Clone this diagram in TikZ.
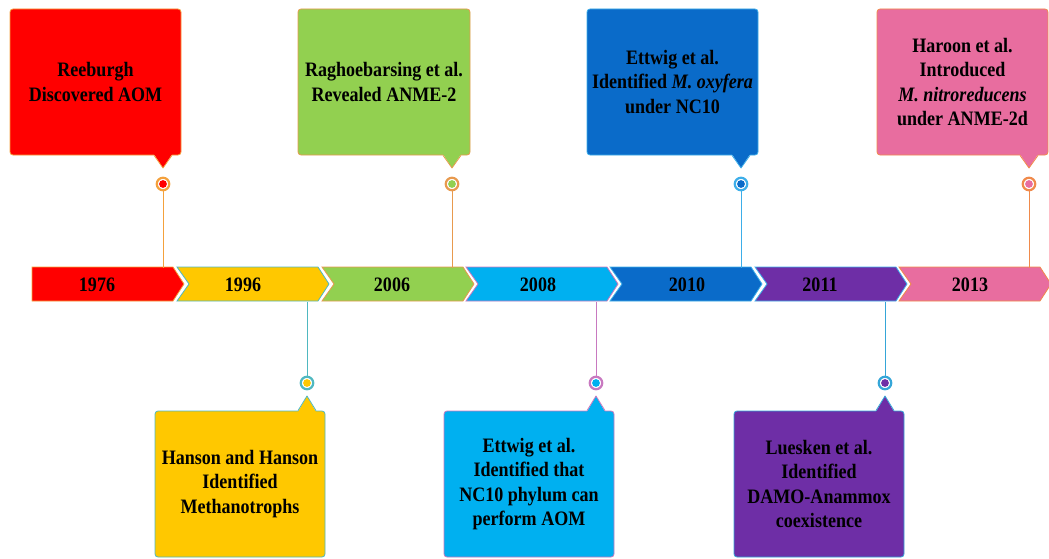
\documentclass[tikz,border=0pt]{standalone}
\usepackage{fontspec}
\setmainfont{Liberation Serif}[FakeStretch=0.88]
\usetikzlibrary{calc}

% fills
\definecolor{cRed}{HTML}{FF0000}
\definecolor{cYellow}{HTML}{FFC800}
\definecolor{cGreen}{HTML}{92D050}
\definecolor{cSky}{HTML}{00B0F0}
\definecolor{cBlue}{HTML}{0A6BC9}
\definecolor{cPurple}{HTML}{6E2EA6}
\definecolor{cPink}{HTML}{E86D9F}
% rings, outlines and stems
\definecolor{rRed}{HTML}{F4A13C}
\definecolor{rYellow}{HTML}{4FB8C0}
\definecolor{rGreen}{HTML}{E89A4E}
\definecolor{rSky}{HTML}{C879C0}
\definecolor{rBlue}{HTML}{3DAEE9}
\definecolor{rPurple}{HTML}{35A6D8}
\definecolor{rPink}{HTML}{F08A4B}

\newcommand\txtfont{\fontsize{20.5}{24.5}\selectfont\bfseries}

\tikzset{
  card/.style 2 args={draw=#2, fill=#1, line width=0.8pt, rounded corners=3pt,
    minimum width=171pt, minimum height=146pt, inner sep=0pt, align=center,
    font=\txtfont, text=black},
  year/.style={inner sep=0pt, minimum height=34pt, font=\txtfont, text=black},
  pinnode/.style 2 args={circle, draw=#1, line width=2.2pt, fill=white,
    minimum size=12.5pt, inner sep=0pt,
    path picture={\fill[#2] (path picture bounding box.center) circle (3.9pt);}},
  stem/.style={draw=#1, line width=1pt},
}

% one arrow segment of the time bar: left x, fill, outline, notch depth
\newcommand\chevron[4]{%
  \draw[fill=#2, draw=#3, line width=0.8pt, line join=miter]
    (#1,267) -- ++(141,0) -- ++(11,17) -- ++(-11,17) -- ++(-141,0) -- ++(#4,-17) -- cycle;}

% pointer of a card above the bar: card, pin, fill, outline
\newcommand\downpointer[4]{%
  \fill[#3] ($(#1.south -| #2)+(-9,-1.2)$) -- ($(#2)+(0,-16)$) -- ($(#1.south -| #2)+(9,-1.2)$) -- cycle;
  \draw[#4, line width=0.8pt, line join=round] ($(#1.south -| #2)+(-9,0)$) -- ($(#2)+(0,-16)$) -- ($(#1.south -| #2)+(9,0)$);}
% pointer of a card below the bar
\newcommand\uppointer[4]{%
  \fill[#3] ($(#1.north -| #2)+(-9,1.2)$) -- ($(#2)+(0,13)$) -- ($(#1.north -| #2)+(9,1.2)$) -- cycle;
  \draw[#4, line width=0.8pt, line join=round] ($(#1.north -| #2)+(-9,0)$) -- ($(#2)+(0,13)$) -- ($(#1.north -| #2)+(9,0)$);}

\begin{document}
\begin{tikzpicture}[x=1pt, y=-1pt]
\useasboundingbox (0,0) rectangle (1049,559);

% time bar
\chevron{32}{cRed}{rRed}{0}
\chevron{177}{cYellow}{rYellow}{12}
\chevron{322}{cGreen}{rGreen}{12}
\chevron{466}{cSky}{rSky}{12}
\chevron{610}{cBlue}{rBlue}{12}
\chevron{755}{cPurple}{rBlue}{12}
\chevron{899}{cPink}{rPink}{12}

\node[year] (y1976) at (97,285)  {1976};
\node[year] (y1996) at (243,285) {1996};
\node[year] (y2006) at (392,285) {2006};
\node[year] (y2008) at (538,285) {2008};
\node[year] (y2010) at (687,285) {2010};
\node[year] (y2011) at (820,285) {2011};
\node[year] (y2013) at (970,285) {2013};

% pins
\node[pinnode={rRed}{cRed}]       (p1976) at (163,184) {};
\node[pinnode={rGreen}{cGreen}]   (p2006) at (452,184) {};
\node[pinnode={rBlue}{cBlue}]     (p2010) at (741,184) {};
\node[pinnode={rPink}{cPink}]     (p2013) at (1029,184) {};
\node[pinnode={rYellow}{cYellow}] (p1996) at (307,383) {};
\node[pinnode={rSky}{cSky}]       (p2008) at (596,383) {};
\node[pinnode={rPurple}{cPurple}] (p2011) at (885,383) {};

% stems from pins to the bar
\draw[stem=rRed]    (p1976.south) -- (p1976.south |- y1976.north);
\draw[stem=rGreen]  (p2006.south) -- (p2006.south |- y2006.north);
\draw[stem=rBlue]   (p2010.south) -- (p2010.south |- y2010.north);
\draw[stem=rPink]   (p2013.south) -- (p2013.south |- y2013.north);
\draw[stem=rYellow] (p1996.north) -- (p1996.north |- y1996.south);
\draw[stem=rSky]    (p2008.north) -- (p2008.north |- y2008.south);
\draw[stem=rPurple] (p2011.north) -- (p2011.north |- y2011.south);

% cards above the bar
\node[card={cRed}{rRed}] (b1976) at (95.5,82) {Reeburgh\\Discovered AOM};
\downpointer{b1976}{p1976}{cRed}{rRed}
\node[card={cGreen}{rGreen}, minimum width=172pt] (b2006) at (384,82)
  {Raghoebarsing et al.\\Revealed ANME-2};
\downpointer{b2006}{p2006}{cGreen}{rGreen}
\node[card={cBlue}{rBlue}] (b2010) at (672.5,82)
  {Ettwig et al.\\Identified \textit{M. oxyfera}\\under NC10};
\downpointer{b2010}{p2010}{cBlue}{rBlue}
\node[card={cPink}{rPink}] (b2013) at (962.5,82)
  {Haroon et al.\\Introduced\\\textit{M. nitroreducens}\\under ANME-2d};
\downpointer{b2013}{p2013}{cPink}{rPink}

% cards below the bar
\node[card={cYellow}{rYellow}, minimum width=170pt] (b1996) at (240,484)
  {Hanson and Hanson\\Identified\\Methanotrophs};
\uppointer{b1996}{p1996}{cYellow}{rYellow}
\node[card={cSky}{rSky}, minimum width=170pt] (b2008) at (529,484)
  {Ettwig et al.\\Identified that\\NC10 phylum can\\perform AOM};
\uppointer{b2008}{p2008}{cSky}{rSky}
\node[card={cPurple}{rPurple}, minimum width=170pt] (b2011) at (819,484)
  {Luesken et al.\\Identified\\DAMO-Anammox\\coexistence};
\uppointer{b2011}{p2011}{cPurple}{rPurple}
\end{tikzpicture}
\end{document}
